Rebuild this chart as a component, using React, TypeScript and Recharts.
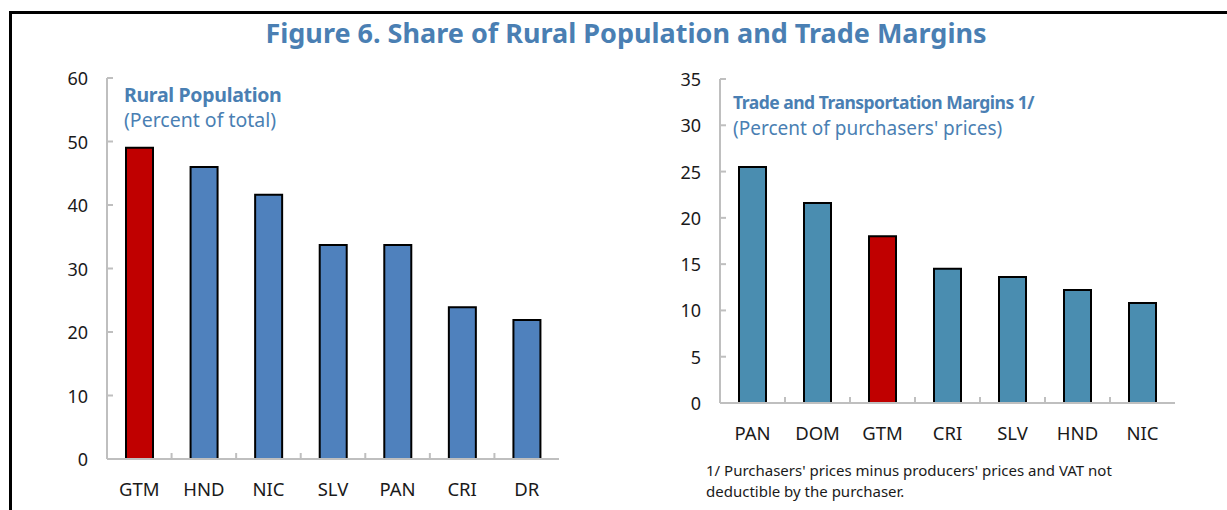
import React from 'react';
import { BarChart, Bar, XAxis, YAxis, Cell } from 'recharts';

// Left panel: rural population, percent of total
const ruralCategories = ['GTM', 'HND', 'NIC', 'SLV', 'PAN', 'CRI', 'DR'];
const ruralValues = [49.0, 46.0, 41.6, 33.7, 33.7, 23.9, 21.9];
const ruralTicks = [0, 10, 20, 30, 40, 50, 60];

// Right panel: trade and transportation margins, percent of purchasers' prices
const marginCategories = ['PAN', 'DOM', 'GTM', 'CRI', 'SLV', 'HND', 'NIC'];
const marginValues = [25.5, 21.6, 18.0, 14.5, 13.6, 12.2, 10.8];
const marginTicks = [0, 5, 10, 15, 20, 25, 30, 35];

const highlight = 'GTM';

const FONT = '"Noto Sans", "Open Sans", sans-serif';
const TITLE_BLUE = '#4A7FB3';
const BOX_GRAY = '#BFBFBF';
const RED = '#C00000';

const ruralData = ruralCategories.map((name, i) => ({ name, value: ruralValues[i] }));
const marginData = marginCategories.map((name, i) => ({ name, value: marginValues[i] }));

// y tick: label outside, short tick mark inside the plot box
const makeYTick = (margin: number) => (props: any) => {
  const { x, y, payload } = props;
  const axisX = x + margin;
  return (
    <g>
      <line x1={axisX} x2={axisX + 6} y1={y} y2={y} stroke={BOX_GRAY} strokeWidth={2} />
      <text x={x} y={y} textAnchor="end" dominantBaseline="central" fontSize={18} fill="#1a1a1a" fontFamily={FONT}>
        {payload.value}
      </text>
    </g>
  );
};

// x tick: category label, plus a short mark at the left boundary of the band pointing up
const makeXTick = (band: number, margin: number) => (props: any) => {
  const { x, y, payload, index } = props;
  const axisY = y - margin;
  return (
    <g>
      {index > 0 && (
        <line x1={x - band / 2} x2={x - band / 2} y1={axisY} y2={axisY - 6} stroke={BOX_GRAY} strokeWidth={2} />
      )}
      <text x={x} y={y} textAnchor="middle" dy="0.71em" fontSize={18.5} fill="#1a1a1a" fontFamily={FONT}>
        {payload.value}
      </text>
    </g>
  );
};

interface PanelProps {
  data: { name: string; value: number }[];
  ticks: number[];
  width: number;
  height: number;
  plotLeft: number;
  plotRight: number;
  plotTop: number;
  plotBottom: number;
  barColor: string;
}

const Panel: React.FC<PanelProps> = ({ data, ticks, width, height, plotLeft, plotRight, plotTop, plotBottom, barColor }) => {
  const xAxisHeight = 40;
  const band = (plotRight - plotLeft) / data.length;
  const yMargin = 19;
  const xMargin = 24;
  return (
    <BarChart
      width={width}
      height={height}
      data={data}
      barSize={27}
      margin={{ top: plotTop, right: width - plotRight, bottom: height - plotBottom - xAxisHeight, left: 0 }}
    >
      <XAxis
        dataKey="name"
        height={xAxisHeight}
        tickSize={0}
        tickMargin={xMargin}
        tickLine={false}
        axisLine={{ stroke: BOX_GRAY, strokeWidth: 2 }}
        tick={makeXTick(band, xMargin)}
        interval={0}
      />
      <XAxis xAxisId="top" dataKey="name" orientation="top" height={0} tick={false} tickLine={false} axisLine={{ stroke: BOX_GRAY, strokeWidth: 2 }} />
      <YAxis
        width={plotLeft}
        domain={[ticks[0], ticks[ticks.length - 1]]}
        ticks={ticks}
        interval={0}
        tickSize={0}
        tickMargin={yMargin}
        tickLine={false}
        axisLine={{ stroke: BOX_GRAY, strokeWidth: 2 }}
        tick={makeYTick(yMargin)}
      />
      <YAxis yAxisId="right" orientation="right" width={0} tick={false} tickLine={false} axisLine={{ stroke: BOX_GRAY, strokeWidth: 2 }} />
      <Bar dataKey="value" stroke="#000" strokeWidth={2} isAnimationActive={false}>
        {data.map((d, i) => (
          <Cell key={`c-${i}`} fill={d.name === highlight ? RED : barColor} />
        ))}
      </Bar>
    </BarChart>
  );
};

const App: React.FC = () => {
  return (
    <div style={{ position: 'absolute', left: 0, top: 0, width: 1227, height: 510, background: '#fff', overflow: 'hidden', fontFamily: FONT }}>
      {/* outer frame */}
      <div style={{ position: 'absolute', left: 9, top: 11, width: 1240, height: 520, borderTop: '3px solid #000', borderLeft: '3px solid #000' }} />
      <div style={{ position: 'absolute', left: 0, width: 1252, top: 14, lineHeight: '38px', textAlign: 'center', fontSize: 27, fontWeight: 700, color: TITLE_BLUE }}>
        Figure 6. Share of Rural Population and Trade Margins
      </div>

      <div style={{ position: 'absolute', left: 0, top: 0 }}>
        <Panel data={ruralData} ticks={ruralTicks} width={600} height={510} plotLeft={107} plotRight={559} plotTop={78} plotBottom={459} barColor="#4F81BD" />
      </div>
      <div style={{ position: 'absolute', left: 124, top: 82, color: TITLE_BLUE, lineHeight: '25px' }}>
        <div style={{ fontSize: 19.5, fontWeight: 700, letterSpacing: -0.3 }}>Rural Population</div>
        <div style={{ fontSize: 19.5 }}>(Percent of total)</div>
      </div>

      <div style={{ position: 'absolute', left: 620, top: 0 }}>
        <Panel data={marginData} ticks={marginTicks} width={607} height={510} plotLeft={100} plotRight={555} plotTop={79} plotBottom={403} barColor="#4A8DB0" />
      </div>
      <div style={{ position: 'absolute', left: 733, top: 89, color: TITLE_BLUE, lineHeight: '26px' }}>
        <div style={{ fontSize: 17.5, fontWeight: 700, letterSpacing: -0.5 }}>Trade and Transportation Margins 1/</div>
        <div style={{ fontSize: 19 }}>(Percent of purchasers' prices)</div>
      </div>

      <div style={{ position: 'absolute', left: 706, top: 460, fontSize: 15, color: '#1a1a1a', lineHeight: '21px' }}>
        <div>1/ Purchasers' prices minus producers' prices and VAT not</div>
        <div>deductible by the purchaser.</div>
      </div>
    </div>
  );
};

export default App;
